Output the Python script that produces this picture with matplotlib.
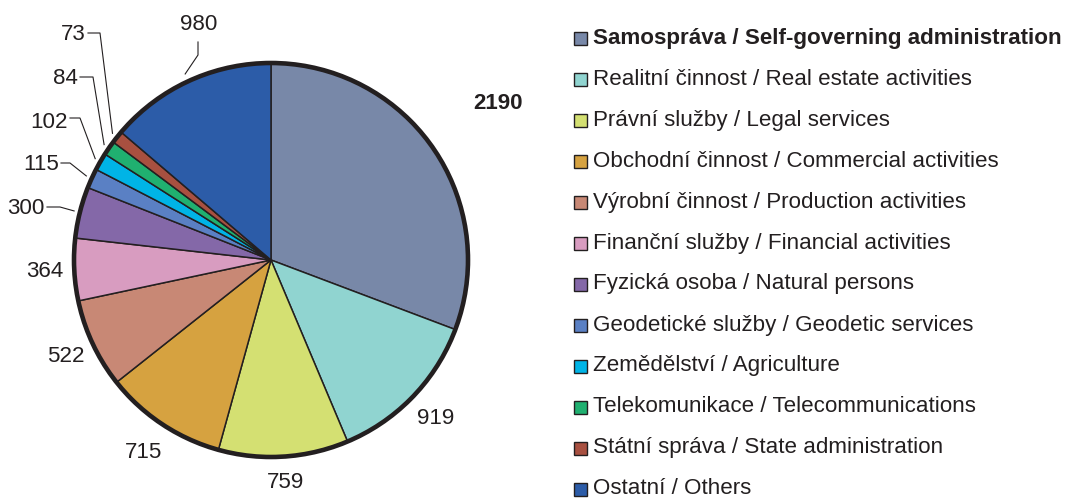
import numpy as np
import matplotlib.pyplot as plt
from matplotlib.patches import Circle, Rectangle

plt.rcParams['font.family'] = ['Liberation Sans', 'DejaVu Sans']

# data
names = ['Samospráva / Self-governing administration',
         'Realitní činnost / Real estate activities',
         'Právní služby / Legal services',
         'Obchodní činnost / Commercial activities',
         'Výrobní činnost / Production activities',
         'Finanční služby / Financial activities',
         'Fyzická osoba / Natural persons',
         'Geodetické služby / Geodetic services',
         'Zemědělství / Agriculture',
         'Telekomunikace / Telecommunications',
         'Státní správa / State administration',
         'Ostatní / Others']
values = [2190, 919, 759, 715, 522, 364, 300, 115, 102, 84, 73, 980]
colors = ['#7888a8', '#90d4d0', '#d4e072', '#d6a240', '#c88875', '#d89cc0',
          '#8468a8', '#5a80c4', '#00b4e6', '#20b070', '#a85040', '#2c5ca8']

W, H = 1066, 499
fig = plt.figure(figsize=(W / 100, H / 100), dpi=100, facecolor='white')
ax = fig.add_axes([0, 0, 1, 1])

cx, cy, R = 271, H - 260, 197
wedges, _ = ax.pie(values, colors=colors, startangle=90, counterclock=False,
                   center=(cx, cy), radius=R,
                   wedgeprops=dict(edgecolor='#231f20', linewidth=1.1))
ax.add_patch(Circle((cx, cy), R, fill=False, edgecolor='#231f20', linewidth=3.3, zorder=5))
ax.set_xlim(0, W)
ax.set_ylim(0, H)
ax.set_aspect('auto')
ax.axis('off')

fs = 16.1
tc = '#231f20'

# mid angles (clockwise from top)
fr = np.cumsum(values) / np.sum(values)
start = np.concatenate([[0], fr[:-1]])
mid = (start + fr) / 2 * 2 * np.pi


def edge_pt(i, k):
    return cx + k * R * np.sin(mid[i]), cy + k * R * np.cos(mid[i])


# labels placed radially
radial = {0: 1.40, 1: 1.16, 2: 1.13, 3: 1.17, 4: 1.15, 5: 1.15}
for i, k in radial.items():
    x, y = edge_pt(i, k)
    ax.text(x, y, str(values[i]), ha='center', va='center', fontsize=fs, color=tc,
            fontweight='bold' if i == 0 else 'normal')

# small labels with leader lines: (text right x, text y, line y, elbow x) in image px
leaders = {6: (45, 208, 207, 60),
           7: (59, 164, 163, 70),
           8: (68, 122, 118, 80),
           9: (78, 78, 77, 93),
           10: (86, 34, 33, 100)}
for i, (tx, ty, ly, ex) in leaders.items():
    ax.text(tx, H - ty, str(values[i]), ha='right', va='center', fontsize=fs, color=tc)
    px, py = edge_pt(i, 1.03)
    ax.plot([tx + 2, ex, px], [H - ly, H - ly, py], color=tc, lw=0.8, zorder=6)

# Others label, vertical leader
ax.text(199, H - 24, str(values[11]), ha='center', va='center', fontsize=fs, color=tc)
px, py = edge_pt(11, 1.04)
ax.plot([198, 198, px], [H - 42, H - 55, py], color=tc, lw=0.8, zorder=6)

# legend
for j, (nm, c) in enumerate(zip(names, colors)):
    y = H - (38 + j * 41.0)
    ax.add_patch(Rectangle((574, y - 6.5), 13, 13, facecolor=c, edgecolor=tc, linewidth=1.0))
    ax.text(593, y, nm, ha='left', va='center', fontsize=fs, color=tc,
            fontweight='bold' if j == 0 else 'normal')

fig.savefig('out.png', dpi=100, facecolor='white')
